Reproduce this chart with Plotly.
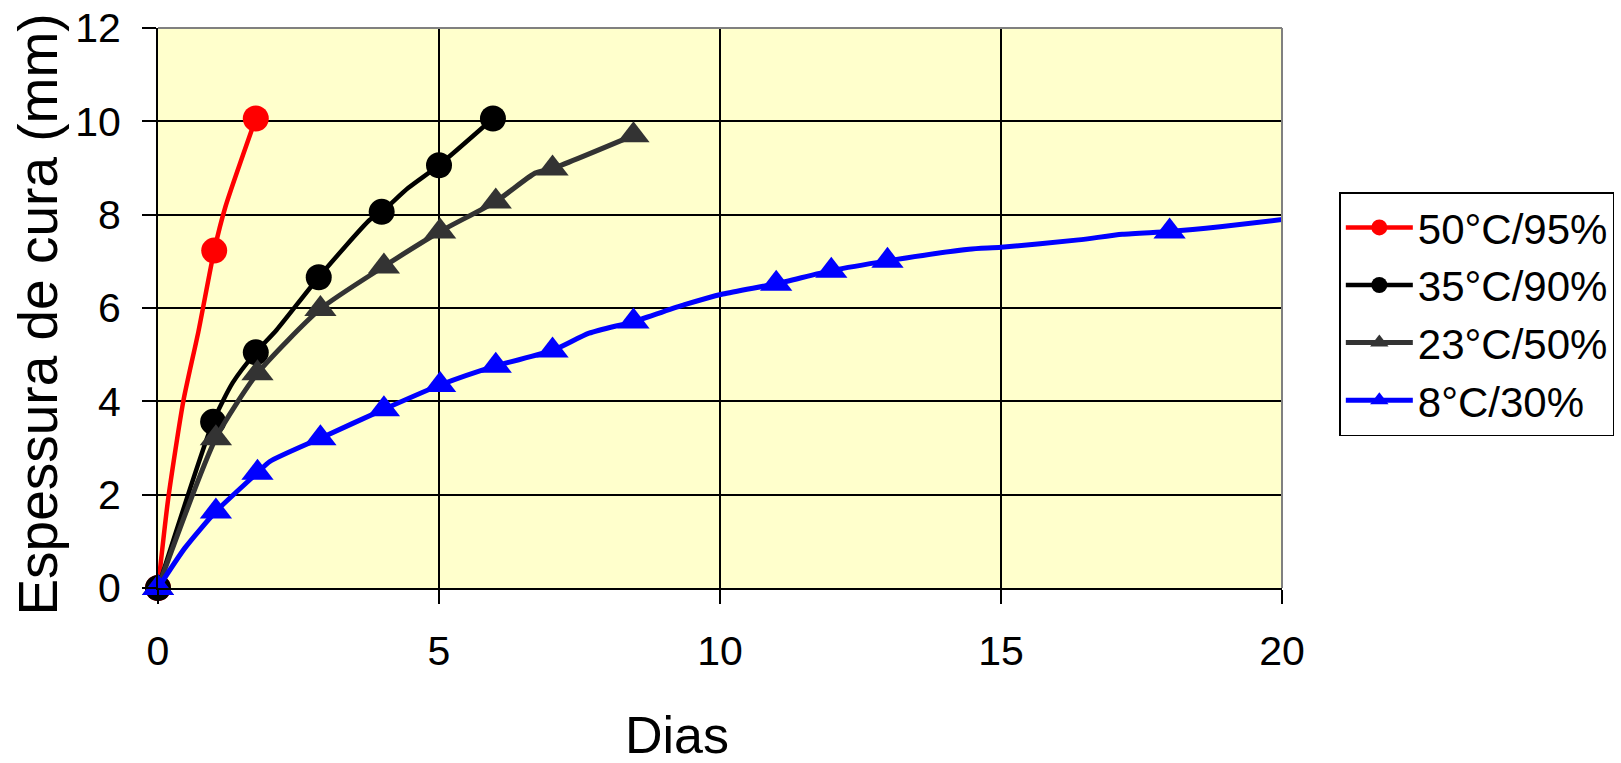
import plotly.graph_objects as go

# ---- data ----
series_names = ["50°C/95%", "35°C/90%", "23°C/50%", "8°C/30%"]
series_colors = ["#FF0000", "#000000", "#333333", "#0000FF"]
series_symbols = ["circle", "circle", "triangle-up", "triangle-up"]

# measured points (markers)
dias_50 = [0, 1.0, 1.74]
esp_50 = [0, 7.23, 10.06]
dias_35 = [0, 0.98, 1.74, 2.86, 3.98, 5.0, 5.96]
esp_35 = [0, 3.56, 5.05, 6.66, 8.06, 9.06, 10.06]
dias_23 = [0, 1.03, 1.77, 2.89, 4.02, 5.02, 6.01, 7.02, 8.46]
esp_23 = [0, 3.21, 4.60, 5.98, 6.89, 7.64, 8.28, 8.99, 9.70]
dias_8 = [0, 1.03, 1.77, 2.89, 4.02, 5.02, 6.01, 7.02, 8.46, 11.0, 11.98, 12.98, 18.0]
esp_8 = [0, 1.64, 2.47, 3.21, 3.83, 4.35, 4.76, 5.09, 5.71, 6.52, 6.80, 7.01, 7.64]

# curve points (line path as drawn)
curva_dias_50 = [0, 0.18, 0.45, 0.72, 1.0, 1.2, 1.74]
curva_esp_50 = [0, 1.9, 4.0, 5.5, 7.23, 8.17, 10.06]
curva_dias_35 = [0, 0.98, 1.33, 1.74, 2.11, 2.86, 3.77, 3.98, 4.45, 5.0, 5.96]
curva_esp_35 = [0, 3.56, 4.40, 5.05, 5.53, 6.66, 7.89, 8.06, 8.57, 9.06, 10.06]
curva_dias_23 = [0, 1.03, 1.77, 2.89, 4.02, 5.02, 6.01, 6.71, 7.02, 8.46]
curva_esp_23 = [0, 3.21, 4.60, 5.98, 6.89, 7.64, 8.28, 8.89, 8.99, 9.70]
curva_dias_8 = [0, 0.48, 1.03, 1.77, 1.99, 2.89, 4.02, 5.02, 6.01, 7.02, 7.67, 8.46,
                9.37, 10.05, 11.0, 11.98, 12.98, 14.43, 15.0, 16.38, 17.16, 18.0, 18.9, 20.25]
curva_esp_8 = [0, 0.86, 1.64, 2.47, 2.71, 3.21, 3.83, 4.35, 4.76, 5.09, 5.46, 5.71,
               6.07, 6.30, 6.52, 6.80, 7.01, 7.26, 7.30, 7.46, 7.58, 7.64, 7.74, 7.93]

x_ticks = [0, 5, 10, 15, 20]
y_ticks = [0, 2, 4, 6, 8, 10, 12]

marker_pts = [(dias_50, esp_50), (dias_35, esp_35), (dias_23, esp_23), (dias_8, esp_8)]
curve_pts = [(curva_dias_50, curva_esp_50), (curva_dias_35, curva_esp_35),
             (curva_dias_23, curva_esp_23), (curva_dias_8, curva_esp_8)]
line_widths = [4.5, 4.5, 5, 5]
marker_sizes = [26, 26, 28, 28]

FONT = "Liberation Sans, Arial, sans-serif"

fig = go.Figure()
for i in range(4):
    cx, cy = curve_pts[i]
    mx, my = marker_pts[i]
    fig.add_trace(go.Scatter(
        x=cx, y=cy, mode="lines", showlegend=False, hoverinfo="skip",
        line=dict(color=series_colors[i], width=line_widths[i], shape="spline", smoothing=0.6),
    ))
    fig.add_trace(go.Scatter(
        x=mx, y=my, mode="markers", showlegend=False, name=series_names[i],
        cliponaxis=False,
        marker=dict(color=series_colors[i], symbol=series_symbols[i], size=marker_sizes[i],
                    line=dict(width=0)),
    ))
# legend entries
for i in range(4):
    fig.add_trace(go.Scatter(
        x=[None], y=[None], mode="lines+markers", name=series_names[i],
        line=dict(color=series_colors[i], width=line_widths[i]),
        marker=dict(color=series_colors[i], symbol=series_symbols[i], size=marker_sizes[i]),
    ))

fig.update_layout(
    width=1621, height=763,
    margin=dict(l=158, r=339, t=28, b=175, autoexpand=False),
    paper_bgcolor="white", plot_bgcolor="#FFFFCC",
    font=dict(family=FONT, color="black", size=41),
    legend=dict(x=1.051, y=0.707, xanchor="left", yanchor="top",
                bgcolor="white", bordercolor="black", borderwidth=1.5,
                font=dict(family=FONT, size=42, color="black"),
                itemwidth=67, tracegroupgap=0),
    xaxis=dict(range=[0, 20], tickvals=x_ticks, ticktext=[str(v) for v in x_ticks],
               showgrid=True, gridcolor="black", gridwidth=1.5,
               showline=True, linecolor="black", linewidth=2,
               ticks="outside", ticklen=14, tickwidth=1.5, tickcolor="black",
               zeroline=False, tickfont=dict(size=41, family=FONT), ticklabelstandoff=12),
    yaxis=dict(range=[0, 12], tickvals=y_ticks, ticktext=[str(v) for v in y_ticks],
               showgrid=True, gridcolor="black", gridwidth=1.5,
               showline=True, linecolor="black", linewidth=2,
               ticks="outside", ticklen=14, tickwidth=1.5, tickcolor="black",
               zeroline=False, tickfont=dict(size=41, family=FONT), ticklabelstandoff=13),
    showlegend=True,
)

# plot-area border (top and right, gray)
fig.add_shape(type="line", xref="paper", yref="paper", x0=0, x1=1, y0=1, y1=1,
              line=dict(color="#808080", width=2), layer="above")
fig.add_shape(type="line", xref="paper", yref="paper", x0=1, x1=1, y0=0, y1=1,
              line=dict(color="#808080", width=2), layer="above")

# axis titles
fig.add_annotation(text="Espessura de cura (mm)", xref="paper", yref="paper",
                   x=-0.107, y=0.4877, xanchor="center", yanchor="middle",
                   textangle=-90, showarrow=False, font=dict(size=55, family=FONT))
fig.add_annotation(text="Dias", xref="paper", yref="paper",
                   x=0.4617, y=-0.262, xanchor="center", yanchor="middle",
                   showarrow=False, font=dict(size=52, family=FONT))

fig.write_html("out.html", config={"displayModeBar": False},
               post_script="document.body.style.margin='0';document.body.style.overflow='hidden';")
